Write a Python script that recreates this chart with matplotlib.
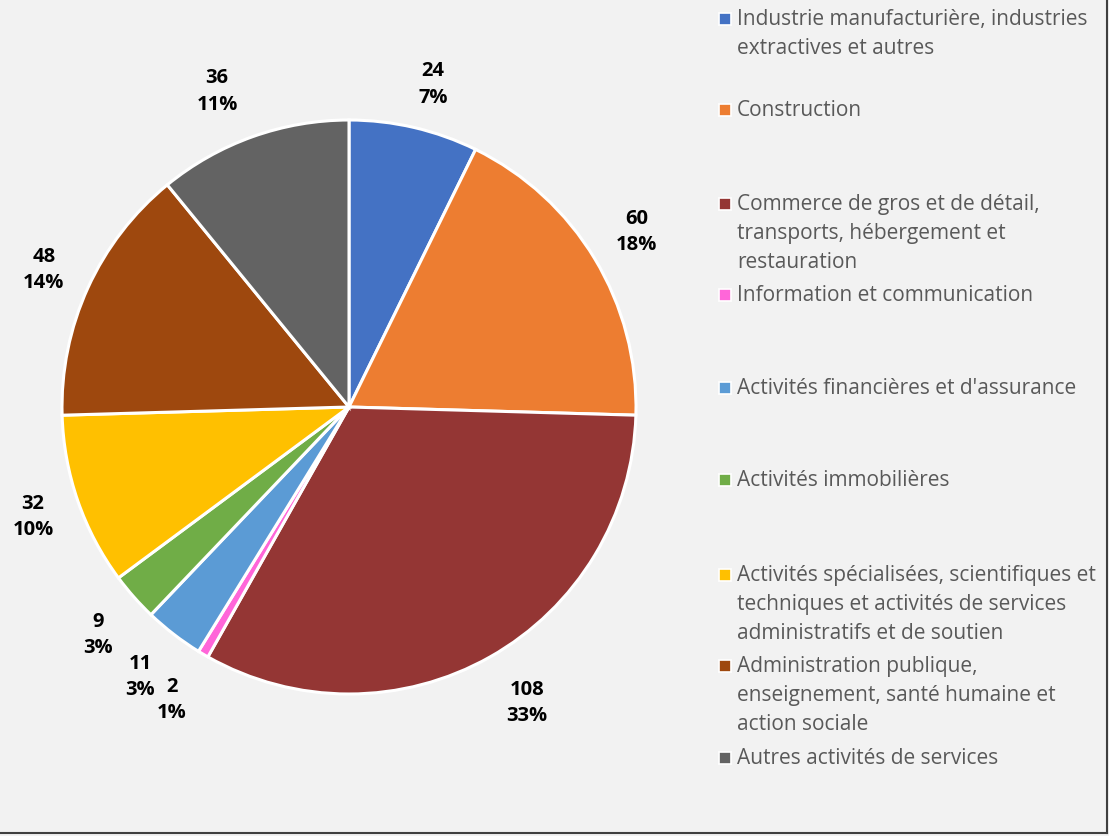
import matplotlib

matplotlib.use("Agg")
import matplotlib.pyplot as plt
from matplotlib.patches import Rectangle
from matplotlib.lines import Line2D

plt.rcParams["font.family"] = ["Open Sans", "DejaVu Sans"]

categories = [
    "Industrie manufacturière, industries\nextractives et autres",
    "Construction",
    "Commerce de gros et de détail,\ntransports, hébergement et\nrestauration",
    "Information et communication",
    "Activités financières et d'assurance",
    "Activités immobilières",
    "Activités spécialisées, scientifiques et\ntechniques et activités de services\nadministratifs et de soutien",
    "Administration publique,\nenseignement, santé humaine et\naction sociale",
    "Autres activités de services",
]
values = [24, 60, 108, 2, 11, 9, 32, 48, 36]
pct_labels = ["7%", "18%", "33%", "1%", "3%", "3%", "10%", "14%", "11%"]
colors = ["#4472C4", "#ED7D31", "#943634", "#FF66D9", "#5B9BD5",
          "#70AD47", "#FFC000", "#9E480E", "#636363"]

W, H = 1109, 836
BG = "#F2F2F2"

fig = plt.figure(figsize=(W / 100, H / 100), dpi=100, facecolor=BG)

# pie box in pixels: centre (349, 407), radius 287
cx, cy, r = 349, 407, 287
ax = fig.add_axes([(cx - r) / W, (H - cy - r) / H, 2 * r / W, 2 * r / H])
ax.set_facecolor(BG)
ax.pie(values, colors=colors, startangle=90, counterclock=False, radius=1,
       wedgeprops=dict(edgecolor="white", linewidth=2.2))
ax.set_xlim(-1, 1)
ax.set_ylim(-1, 1)
ax.axis("off")

# data label centres, in pie units
label_pos = [(0.293, 1.125), (1.003, 0.610), (0.620, -1.031), (-0.617, -1.021),
             (-0.728, -0.941), (-0.875, -0.794), (-1.101, -0.383),
             (-1.063, 0.477), (-0.460, 1.098)]
for v, p, (lx, ly) in zip(values, pct_labels, label_pos):
    ax.text(lx, ly, f"{v}\n{p}", ha="center", va="center", fontsize=14.5,
            fontweight="bold", color="black", linespacing=1.45)

# legend drawn by hand so multi-line entries keep their spacing
legend_y = [19, 110, 204, 295, 388, 480, 575, 666, 758]
for name, col, y in zip(categories, colors, legend_y):
    fig.patches.append(Rectangle((719 / W, (H - y - 6) / H), 12 / W, 12 / H,
                                 transform=fig.transFigure, facecolor=col,
                                 edgecolor="white", linewidth=1.2))
    fig.text(737 / W, (H - y + 10) / H, name, ha="left", va="top",
             fontsize=15, color="#595959", linespacing=1.5)

# outer frame on bottom and right
fig.lines.append(Line2D([0, 1107 / W], [3 / H, 3 / H], transform=fig.transFigure,
                        color="#404040", linewidth=1.5))
fig.lines.append(Line2D([1107 / W, 1107 / W], [3 / H, 1], transform=fig.transFigure,
                        color="#404040", linewidth=1.5))

fig.savefig("out.png", dpi=100, facecolor=BG)
